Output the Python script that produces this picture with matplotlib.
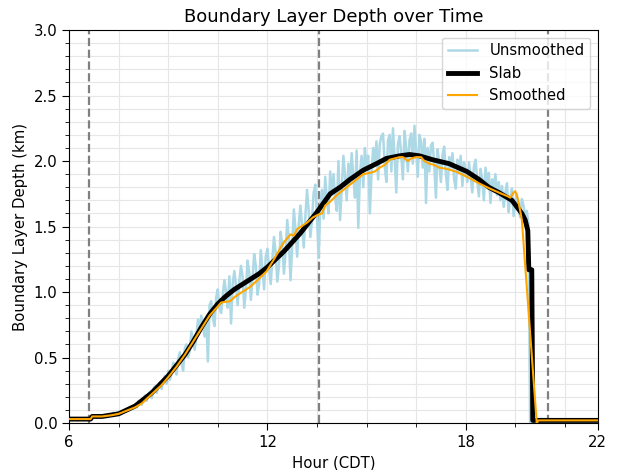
import numpy as np
import matplotlib
matplotlib.use("Agg")
import matplotlib.pyplot as plt
from matplotlib.ticker import MultipleLocator, FixedLocator

# Unsmoothed retrieval, every 3 minutes from 06:00 to 19:55 (one row per hour)
raw_hours = np.round(np.arange(6.0, 19.951, 0.05), 2)
raw_depth = [
    0.03, 0.03, 0.02, 0.03, 0.03, 0.02, 0.03, 0.03, 0.03, 0.02, 0.03, 0.03, 0.03, 0.03, 0.04, 0.05, 0.05, 0.04, 0.05, 0.05,
    0.05, 0.06, 0.05, 0.06, 0.07, 0.06, 0.07, 0.08, 0.07, 0.08, 0.08, 0.09, 0.08, 0.09, 0.10, 0.09, 0.11, 0.10, 0.12, 0.11,
    0.14, 0.12, 0.17, 0.15, 0.14, 0.19, 0.21, 0.17, 0.22, 0.24, 0.19, 0.26, 0.28, 0.23, 0.27, 0.31, 0.26, 0.33, 0.36, 0.30,
    0.40, 0.33, 0.38, 0.46, 0.42, 0.37, 0.49, 0.54, 0.46, 0.40, 0.57, 0.60, 0.50, 0.55, 0.70, 0.62, 0.56, 0.66, 0.79, 0.70,
    0.82, 0.74, 0.66, 0.80, 0.47, 0.90, 0.93, 0.80, 0.74, 0.96, 1.02, 0.88, 0.84, 0.98, 1.09, 1.00, 0.88, 1.12, 0.76, 1.06,
    1.16, 1.05, 0.90, 1.08, 1.20, 1.12, 0.88, 1.02, 1.24, 1.15, 0.94, 1.10, 1.29, 1.20, 0.98, 1.06, 1.32, 1.18, 1.02, 1.27,
    1.33, 1.18, 1.06, 1.25, 1.42, 1.30, 1.08, 1.20, 1.46, 1.36, 1.14, 1.30, 1.55, 1.40, 1.09, 1.35, 1.63, 1.48, 1.27, 1.52,
    1.66, 1.50, 1.34, 1.58, 1.78, 1.62, 1.42, 1.55, 1.76, 1.82, 1.58, 1.26, 1.66, 1.78, 1.56, 1.88, 1.70, 1.60, 1.92, 1.74,
    1.90, 1.72, 1.62, 2.00, 1.55, 1.80, 2.04, 1.88, 1.70, 1.98, 1.82, 2.06, 1.88, 1.72, 2.08, 1.49, 1.90, 2.04, 1.80, 2.10,
    1.95, 2.04, 1.60, 1.90, 2.10, 1.98, 2.15, 1.86, 2.13, 2.19, 2.21, 1.96, 1.84, 2.16, 2.20, 1.92, 2.25, 2.02, 1.76, 2.13,
    2.19, 2.05, 1.86, 2.23, 2.10, 1.92, 2.16, 2.21, 1.98, 2.27, 2.08, 1.88, 2.20, 2.15, 1.95, 2.17, 1.68, 2.10, 1.92, 2.12,
    2.14, 1.96, 1.72, 2.09, 1.98, 1.84, 2.05, 2.11, 1.90, 1.78, 2.03, 1.95, 2.06, 1.86, 1.79, 2.01, 1.92, 2.04, 1.81, 1.99,
    1.92, 1.84, 1.99, 1.88, 1.76, 1.96, 2.01, 1.85, 1.73, 1.94, 1.86, 1.70, 1.95, 1.82, 1.91, 1.68, 1.86, 1.80, 1.90, 1.74,
    1.84, 1.70, 1.81, 1.65, 1.76, 1.83, 1.61, 1.72, 1.79, 1.58, 1.70, 1.75, 1.63, 1.57, 1.71, 1.66, 1.58, 1.62, 1.52, 0.00,
]
raw_tail_hours = [20.0, 22.0]
raw_tail_depth = [0.0, 0.0]

# Slab model
slab_hours = [6.0, 6.65, 6.7, 7.0, 7.5, 8.0, 8.5, 9.0, 9.25, 9.5, 9.75, 10.0, 10.25, 10.5, 10.75,
              11.0, 11.25, 11.5, 11.75, 12.0, 12.5, 13.0, 13.5, 13.9, 14.2, 14.5, 14.9, 15.3, 15.6,
              16.0, 16.3, 16.6, 17.0, 17.5, 18.04, 18.4, 18.7, 19.0, 19.4, 19.7, 19.8, 19.88, 19.91,
              20.0, 20.03, 22.0]
slab_depth = [0.03, 0.03, 0.05, 0.05, 0.07, 0.13, 0.23, 0.36, 0.44, 0.52, 0.62, 0.73, 0.83, 0.91, 0.97,
              1.02, 1.06, 1.10, 1.14, 1.19, 1.31, 1.45, 1.61, 1.75, 1.80, 1.86, 1.93, 1.98, 2.02,
              2.04, 2.05, 2.04, 2.01, 1.98, 1.92, 1.86, 1.80, 1.76, 1.70, 1.60, 1.55, 1.47, 1.17,
              1.17, 0.02, 0.02]

# Smoothed retrieval
smooth_hours = [6.0, 6.65, 6.7, 7.0, 7.3, 7.5, 7.7, 8.0, 8.2, 8.5, 8.8, 9.0, 9.25, 9.5, 9.75, 10.0,
                10.25, 10.5, 10.6, 10.87, 11.0, 11.17, 11.3, 11.48, 11.7, 11.98, 12.2, 12.38, 12.5,
                12.6, 12.7, 12.8, 12.9, 13.08, 13.2, 13.38, 13.53, 13.65, 13.75, 13.9, 14.1, 14.3,
                14.5, 14.7, 14.9, 15.1, 15.25, 15.4, 15.55, 15.7, 15.85, 16.0, 16.1, 16.25, 16.35,
                16.5, 16.65, 16.75, 16.9, 17.05, 17.2, 17.43, 17.7, 18.04, 18.4, 18.73, 19.0, 19.28,
                19.35, 19.45, 19.5, 19.58, 19.65, 19.7, 20.15, 20.2, 22.0]
smooth_depth = [0.03, 0.03, 0.05, 0.05, 0.06, 0.07, 0.09, 0.12, 0.15, 0.22, 0.29, 0.35, 0.43, 0.52, 0.62, 0.72,
                0.82, 0.89, 0.92, 0.93, 0.96, 0.99, 1.01, 1.04, 1.09, 1.16, 1.25, 1.33, 1.38,
                1.41, 1.44, 1.43, 1.48, 1.51, 1.53, 1.57, 1.59, 1.60, 1.66, 1.69, 1.74, 1.78,
                1.82, 1.86, 1.90, 1.91, 1.92, 1.95, 1.97, 2.01, 2.02, 2.03, 2.03, 2.00, 2.02,
                2.03, 2.03, 2.00, 1.98, 1.97, 1.95, 1.94, 1.92, 1.88, 1.83, 1.79, 1.76, 1.73,
                1.72, 1.76, 1.77, 1.71, 1.62, 1.55, 0.0, 0.02, 0.02]

# sunrise, solar noon, sunset
marker_hours = [6.6, 13.55, 20.5]

plt.rcParams["font.size"] = 10.7

fig = plt.figure(figsize=(6.17, 4.70), dpi=100)
ax = fig.add_axes([0.112, 0.1, 0.857, 0.836])

ax.plot(np.concatenate([raw_hours, raw_tail_hours]), np.concatenate([raw_depth, raw_tail_depth]),
        color="lightblue", lw=1.8, label="Unsmoothed", zorder=2)
ax.plot(slab_hours, slab_depth, color="black", lw=3.5, label="Slab", zorder=3)
ax.plot(smooth_hours, smooth_depth, color="orange", lw=1.5, label="Smoothed", zorder=4)

for h in marker_hours:
    ax.axvline(h, color="grey", ls="--", lw=1.6, zorder=1)

ax.set_xlim(6, 22)
ax.set_ylim(0, 3)
ax.xaxis.set_major_locator(FixedLocator([6, 12, 18, 22]))
ax.xaxis.set_minor_locator(MultipleLocator(1.5))
ax.yaxis.set_major_locator(MultipleLocator(0.5))
ax.yaxis.set_minor_locator(MultipleLocator(0.1))
ax.tick_params(which="major", length=5)
ax.tick_params(which="minor", length=2.8)
ax.grid(which="both", color="#e6e6e6", lw=0.8, zorder=0)
ax.set_axisbelow(True)

ax.set_title("Boundary Layer Depth over Time", fontsize=13)
ax.set_xlabel("Hour (CDT)")
ax.set_ylabel("Boundary Layer Depth (km)")
ax.legend(loc="upper right")

fig.savefig("out.png", dpi=100)
